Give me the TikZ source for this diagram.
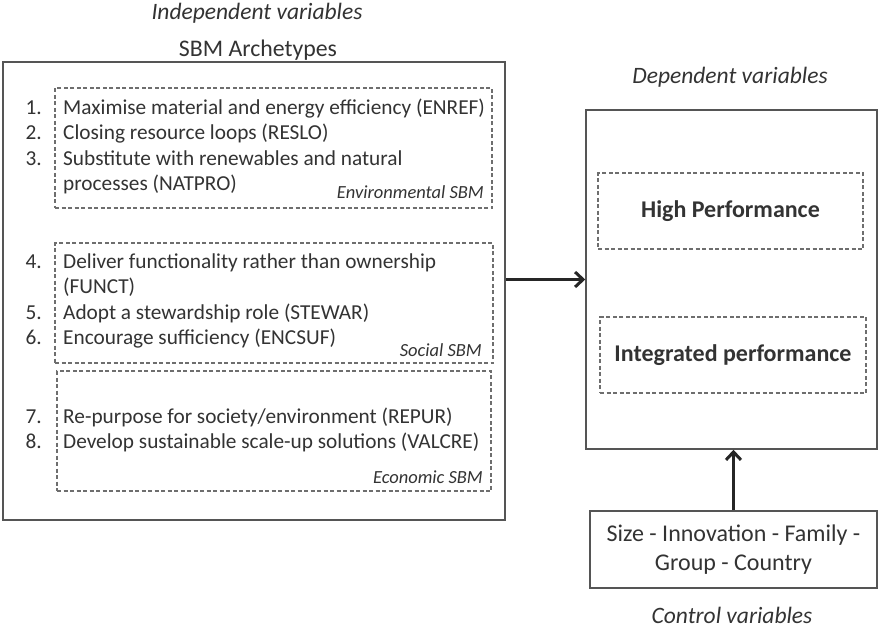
\documentclass[tikz,border=0pt]{standalone}
\usepackage{fontspec}
\setmainfont{Carlito}
\usepackage{xcolor}
\usetikzlibrary{positioning,arrows.meta}

\definecolor{inkgray}{HTML}{333333}
\definecolor{framegray}{HTML}{555555}
\definecolor{dashgray}{HTML}{6E6E6E}

\begin{document}
\begin{tikzpicture}[x=1pt,y=-1pt,
  frame/.style={draw=framegray,line width=1.5pt,inner sep=0pt},
  group/.style={draw=dashgray,dash pattern=on 4pt off 2.5pt,line width=1.2pt,inner sep=0pt},
  item/.style={anchor=base west,align=left,inner sep=0pt,text=inkgray,
    font=\fontsize{21.3}{25}\selectfont},
  num/.style={anchor=base east,inner sep=0pt,text=inkgray,font=\fontsize{21.3}{25}\selectfont},
  tag/.style={anchor=base east,inner sep=0pt,text=inkgray,font=\fontsize{18.5}{20}\selectfont\itshape},
  caption/.style={inner sep=0pt,text=inkgray,font=\fontsize{23.5}{26}\selectfont\itshape},
  perf/.style={inner sep=0pt,text=inkgray,font=\fontsize{24}{28}\selectfont\bfseries},
  link/.style={-{Straight Barb[length=8pt,width=15pt,line width=3pt]},draw=black!85,line width=3pt}]
\useasboundingbox[fill=white] (0,0) rectangle (879,629);

% independent side
\node[caption] (indep) at (257,13) {Independent variables};
\node[inner sep=0pt,text=inkgray,font=\fontsize{23.8}{26}\selectfont] (title) at (258,50) {SBM Archetypes};
\node[frame,minimum width=502pt,minimum height=458pt] (archetypes) at (254,291) {};

\node[group,minimum width=437pt,minimum height=120pt] (envsbm) at (273.5,148) {};
\node[num] (n1) at (42,114) {1.};
\node[item] (enref) at (63,114) {Maximise material and energy efficiency (ENREF)};
\node[num] (n2) at (42,139) {2.};
\node[item] (reslo) at (63,139) {Closing resource loops (RESLO)};
\node[num] (n3) at (42,165) {3.};
\node[item] (natpro) at (63,190) {Substitute with renewables and natural\\processes (NATPRO)};
\node[tag] (envtag) at (484,198) {Environmental SBM};

\node[group,minimum width=438pt,minimum height=120pt] (socsbm) at (274,303) {};
\node[num] (n4) at (42,268) {4.};
\node[item] (funct) at (63,293) {Deliver functionality rather than ownership\\(FUNCT)};
\node[num] (n5) at (42,319) {5.};
\node[item] (stewar) at (63,319) {Adopt a stewardship role (STEWAR)};
\node[num] (n6) at (42,344) {6.};
\node[item] (encsuf) at (63,344) {Encourage sufficiency (ENCSUF)};
\node[tag] (soctag) at (482,356) {Social SBM};

\node[group,minimum width=434pt,minimum height=120pt] (ecosbm) at (274,431) {};
\node[num] (n7) at (42,423) {7.};
\node[item] (repur) at (63,423) {Re-purpose for society/environment (REPUR)};
\node[num] (n8) at (42,448) {8.};
\node[item] (valcre) at (63,448) {Develop sustainable scale-up solutions (VALCRE)};
\node[tag] (ecotag) at (483,483) {Economic SBM};

% dependent side
\node[caption] (dep) at (730,77) {Dependent variables};
\node[frame,minimum width=291pt,minimum height=339pt] (outcome) at (731.5,279.5) {};
\node[group,minimum width=265pt,minimum height=76pt] (highbox) at (730.5,211) {};
\node[perf] (high) at (highbox) {High Performance};
\node[group,minimum width=266pt,minimum height=76pt] (integbox) at (733,355) {};
\node[perf] (integ) at (integbox) {Integrated performance};

% controls
\node[frame,minimum width=287pt,minimum height=77pt,align=center,text=inkgray,
  font=\fontsize{24}{29}\selectfont] (control) at (733.5,549.5)
  {Size - Innovation - Family -\\Group - Country};
\node[caption] (ctrl) at (732,615) {Control variables};

\draw[link] (archetypes.east |- outcome.west) -- (outcome.west);
\draw[link] (control.north) -- (control.north |- outcome.south);
\end{tikzpicture}
\end{document}
